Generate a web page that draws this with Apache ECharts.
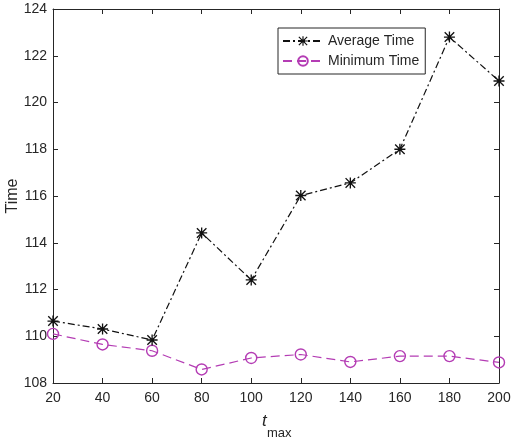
<!DOCTYPE html>
<html>
<head>
<meta charset="utf-8">
<script src="https://cdn.jsdelivr.net/npm/echarts@6/dist/echarts.min.js"></script>
<style>
html,body{margin:0;padding:0;background:#fff;}
#main{width:514px;height:440px;}
</style>
</head>
<body>
<div id="main"></div>
<script>
// t_max values
var tmax = [20, 40, 60, 80, 100, 120, 140, 160, 180, 200];
var avgTime = [110.65, 110.31, 109.84, 114.42, 112.41, 116.02, 116.56, 118.0, 122.8, 120.92];
var minTime = [110.1, 109.65, 109.38, 108.58, 109.07, 109.22, 108.9, 109.15, 109.15, 108.88];

var star = 'path://M8.8 0 L11.2 0 L11.2 20 L8.8 20 Z M0 8.8 L20 8.8 L20 11.2 L0 11.2 Z ' +
    'M2.2 0.5 L19.5 17.8 L17.8 19.5 L0.5 2.2 Z M17.8 0.5 L19.5 2.2 L2.2 19.5 L0.5 17.8 Z';

function pairs(ys) {
    var out = [];
    for (var i = 0; i < tmax.length; i++) {
        out.push([tmax[i], ys[i]]);
    }
    return out;
}

var axisCol = '#262626';
var font = 'Liberation Sans, Arial, sans-serif';

var myChart = echarts.init(document.getElementById('main'));
var option = {
    backgroundColor: '#fff',
    animation: false,
    grid: {left: 53, right: 15, top: 9, bottom: 57, containLabel: false, outerBoundsMode: 'none'},
    legend: {
        left: 278, top: 28,
        orient: 'vertical',
        itemWidth: 40, itemHeight: 12, itemGap: 6,
        padding: [6, 6, 6, 4],
        backgroundColor: '#fff',
        borderColor: axisCol, borderWidth: 1, borderRadius: 0,
        textStyle: {color: axisCol, fontSize: 14, fontFamily: font},
        data: ['Average Time', 'Minimum Time']
    },
    graphic: [
        {type: 'text', left: 262, top: 413,
         style: {text: 't', font: 'italic 17px Liberation Sans, Arial, sans-serif', fill: axisCol}},
        {type: 'text', left: 267, top: 427,
         style: {text: 'max', font: '13px Liberation Sans, Arial, sans-serif', fill: axisCol}},
        {type: 'text', x: 13, y: 196, rotation: Math.PI / 2,
         style: {text: 'Time', font: '16px Liberation Sans, Arial, sans-serif', fill: axisCol,
                 align: 'center', verticalAlign: 'middle'}}
    ],
    xAxis: [{
        type: 'value', min: 20, max: 200, interval: 20,
        axisLine: {lineStyle: {color: axisCol, width: 1}},
        axisTick: {inside: true, length: 5, lineStyle: {color: axisCol}},
        axisLabel: {color: axisCol, fontSize: 14, fontFamily: font, margin: 8},
        splitLine: {show: false}
    }, {
        type: 'value', min: 20, max: 200, interval: 20, position: 'top',
        axisLine: {lineStyle: {color: axisCol, width: 1}},
        axisTick: {inside: true, length: 5, lineStyle: {color: axisCol}},
        axisLabel: {show: false},
        splitLine: {show: false}
    }],
    yAxis: [{
        type: 'value', min: 108, max: 124, interval: 2,
        axisLine: {show: true, lineStyle: {color: axisCol, width: 1}},
        axisTick: {show: true, inside: true, length: 5, lineStyle: {color: axisCol}},
        axisLabel: {color: axisCol, fontSize: 14, fontFamily: font, margin: 6},
        splitLine: {show: false}
    }, {
        type: 'value', min: 108, max: 124, interval: 2, position: 'right',
        axisLine: {show: true, lineStyle: {color: axisCol, width: 1}},
        axisTick: {show: true, inside: true, length: 5, lineStyle: {color: axisCol}},
        axisLabel: {show: false},
        splitLine: {show: false}
    }],
    series: [{
        name: 'Average Time',
        type: 'line',
        data: pairs(avgTime),
        symbol: star, symbolSize: 11,
        itemStyle: {color: '#111'},
        lineStyle: {color: '#111', width: 1.2, type: [7, 3, 2, 3]},
        z: 3
    }, {
        name: 'Minimum Time',
        type: 'line',
        data: pairs(minTime),
        symbol: 'circle', symbolSize: 11,
        itemStyle: {color: 'rgba(0,0,0,0)', borderColor: '#B43CB4', borderWidth: 1.4},
        lineStyle: {color: '#B43CB4', width: 1.2, type: [9, 5]},
        z: 2
    }]
};
myChart.setOption(option);
</script>
</body>
</html>
